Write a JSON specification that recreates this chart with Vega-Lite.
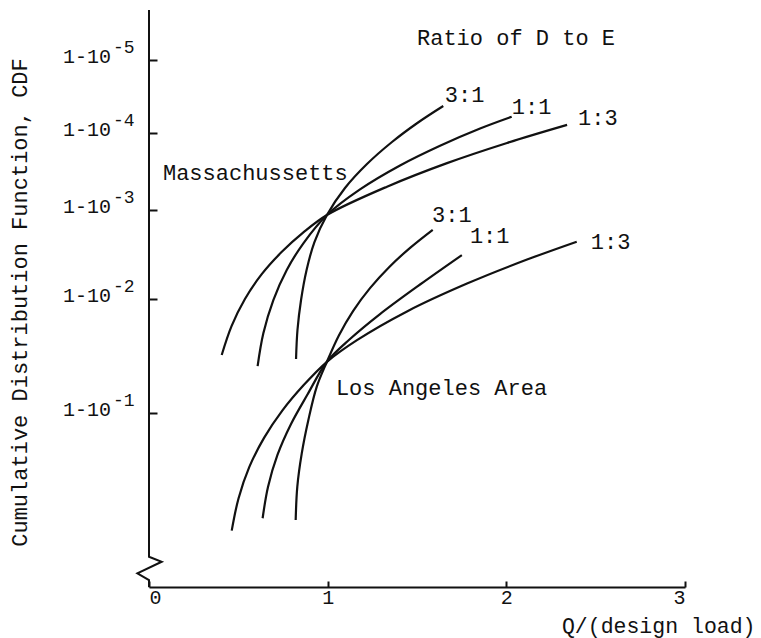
{
  "$schema": "https://vega.github.io/schema/vega-lite/v6.json",
  "width": 536,
  "height": 577,
  "autosize": {"type": "none"},
  "padding": {"left": 149, "top": 10, "right": 76, "bottom": 51},
  "background": "white",
  "config": {"view": {"stroke": null}, "font": "Liberation Mono"},
  "datasets": {
    "curves": [
      {"series": "Massachussetts 1:3", "x": 0.407, "k": 1.509},
      {"series": "Massachussetts 1:3", "x": 0.462, "k": 1.762},
      {"series": "Massachussetts 1:3", "x": 0.537, "k": 2.000},
      {"series": "Massachussetts 1:3", "x": 0.631, "k": 2.279},
      {"series": "Massachussetts 1:3", "x": 0.742, "k": 2.527},
      {"series": "Massachussetts 1:3", "x": 0.864, "k": 2.748},
      {"series": "Massachussetts 1:3", "x": 0.996, "k": 2.944},
      {"series": "Massachussetts 1:3", "x": 1.332, "k": 3.303},
      {"series": "Massachussetts 1:3", "x": 1.668, "k": 3.609},
      {"series": "Massachussetts 1:3", "x": 2.004, "k": 3.871},
      {"series": "Massachussetts 1:3", "x": 2.340, "k": 4.111},
      {"series": "Massachussetts 1:1", "x": 0.608, "k": 1.412},
      {"series": "Massachussetts 1:1", "x": 0.640, "k": 1.699},
      {"series": "Massachussetts 1:1", "x": 0.696, "k": 1.991},
      {"series": "Massachussetts 1:1", "x": 0.771, "k": 2.326},
      {"series": "Massachussetts 1:1", "x": 0.864, "k": 2.626},
      {"series": "Massachussetts 1:1", "x": 0.996, "k": 2.944},
      {"series": "Massachussetts 1:1", "x": 1.181, "k": 3.268},
      {"series": "Massachussetts 1:1", "x": 1.405, "k": 3.579},
      {"series": "Massachussetts 1:1", "x": 1.629, "k": 3.835},
      {"series": "Massachussetts 1:1", "x": 1.853, "k": 4.062},
      {"series": "Massachussetts 1:1", "x": 2.030, "k": 4.223},
      {"series": "Massachussetts 3:1", "x": 0.823, "k": 1.474},
      {"series": "Massachussetts 3:1", "x": 0.831, "k": 1.728},
      {"series": "Massachussetts 3:1", "x": 0.851, "k": 1.991},
      {"series": "Massachussetts 3:1", "x": 0.882, "k": 2.326},
      {"series": "Massachussetts 3:1", "x": 0.926, "k": 2.640},
      {"series": "Massachussetts 3:1", "x": 0.996, "k": 2.944},
      {"series": "Massachussetts 3:1", "x": 1.097, "k": 3.286},
      {"series": "Massachussetts 3:1", "x": 1.220, "k": 3.597},
      {"series": "Massachussetts 3:1", "x": 1.360, "k": 3.883},
      {"series": "Massachussetts 3:1", "x": 1.506, "k": 4.144},
      {"series": "Massachussetts 3:1", "x": 1.647, "k": 4.370},
      {"series": "Los Angeles 1:3", "x": 0.463, "k": 0.324},
      {"series": "Los Angeles 1:3", "x": 0.501, "k": 0.509},
      {"series": "Los Angeles 1:3", "x": 0.561, "k": 0.689},
      {"series": "Los Angeles 1:3", "x": 0.644, "k": 0.857},
      {"series": "Los Angeles 1:3", "x": 0.747, "k": 1.023},
      {"series": "Los Angeles 1:3", "x": 0.866, "k": 1.245},
      {"series": "Los Angeles 1:3", "x": 0.996, "k": 1.449},
      {"series": "Los Angeles 1:3", "x": 1.164, "k": 1.639},
      {"series": "Los Angeles 1:3", "x": 1.444, "k": 1.891},
      {"series": "Los Angeles 1:3", "x": 1.780, "k": 2.173},
      {"series": "Los Angeles 1:3", "x": 2.116, "k": 2.443},
      {"series": "Los Angeles 1:3", "x": 2.394, "k": 2.644},
      {"series": "Los Angeles 1:1", "x": 0.636, "k": 0.395},
      {"series": "Los Angeles 1:1", "x": 0.666, "k": 0.575},
      {"series": "Los Angeles 1:1", "x": 0.719, "k": 0.759},
      {"series": "Los Angeles 1:1", "x": 0.795, "k": 0.937},
      {"series": "Los Angeles 1:1", "x": 0.887, "k": 1.162},
      {"series": "Los Angeles 1:1", "x": 0.996, "k": 1.450},
      {"series": "Los Angeles 1:1", "x": 1.125, "k": 1.649},
      {"series": "Los Angeles 1:1", "x": 1.293, "k": 1.868},
      {"series": "Los Angeles 1:1", "x": 1.517, "k": 2.163},
      {"series": "Los Angeles 1:1", "x": 1.751, "k": 2.494},
      {"series": "Los Angeles 3:1", "x": 0.821, "k": 0.385},
      {"series": "Los Angeles 3:1", "x": 0.830, "k": 0.576},
      {"series": "Los Angeles 3:1", "x": 0.855, "k": 0.768},
      {"series": "Los Angeles 3:1", "x": 0.892, "k": 0.960},
      {"series": "Los Angeles 3:1", "x": 0.939, "k": 1.231},
      {"series": "Los Angeles 3:1", "x": 0.996, "k": 1.450},
      {"series": "Los Angeles 3:1", "x": 1.062, "k": 1.678},
      {"series": "Los Angeles 3:1", "x": 1.142, "k": 1.894},
      {"series": "Los Angeles 3:1", "x": 1.237, "k": 2.122},
      {"series": "Los Angeles 3:1", "x": 1.345, "k": 2.360},
      {"series": "Los Angeles 3:1", "x": 1.463, "k": 2.578},
      {"series": "Los Angeles 3:1", "x": 1.588, "k": 2.778}
    ],
    "axisline": [
      {"o": 1, "x": 0, "k": 5.7},
      {"o": 2, "x": 0, "k": 0.174},
      {"o": 3, "x": 0.071, "k": 0.145},
      {"o": 4, "x": -0.065, "k": 0.079},
      {"o": 5, "x": 0, "k": 0.040},
      {"o": 6, "x": 0, "k": 0}
    ],
    "ylabels": [
      {"k": 5, "base": "1-10", "exp": "-5"},
      {"k": 4, "base": "1-10", "exp": "-4"},
      {"k": 3, "base": "1-10", "exp": "-3"},
      {"k": 2, "base": "1-10", "exp": "-2"},
      {"k": 1, "base": "1-10", "exp": "-1"}
    ],
    "notes": [
      {"label": "Ratio of D to E", "x": 1.500, "k": 5.314},
      {"label": "Massachussetts", "x": 0.078, "k": 3.484},
      {"label": "Los Angeles Area", "x": 1.046, "k": 1.222},
      {"label": "3:1", "x": 1.656, "k": 4.521},
      {"label": "1:1", "x": 2.031, "k": 4.356},
      {"label": "1:3", "x": 2.401, "k": 4.205},
      {"label": "3:1", "x": 1.584, "k": 2.944},
      {"label": "1:1", "x": 1.796, "k": 2.708},
      {"label": "1:3", "x": 2.473, "k": 2.640}
    ]
  },
  "layer": [
    {
      "data": {"name": "curves"},
      "mark": {"type": "line", "interpolate": "catmull-rom", "color": "#111", "strokeWidth": 2.2},
      "encoding": {
        "x": {
          "field": "x", "type": "quantitative",
          "scale": {"domain": [0, 3], "nice": false, "zero": false},
          "axis": {
            "values": [0, 1, 2, 3], "format": "d", "grid": false,
            "domainColor": "#111", "domainWidth": 2,
            "tickColor": "#111", "tickWidth": 2, "tickSize": -6,
            "labelFont": "Liberation Mono", "labelFontSize": 20, "labelColor": "#111", "labelPadding": 6,
            "title": "Q/(design load)", "titleFont": "Liberation Mono", "titleFontSize": 21.5,
            "titleFontWeight": "normal", "titleColor": "#111",
            "titleX": 606, "titleY": 45, "titleAlign": "right", "titleBaseline": "alphabetic", "titleAnchor": null
          }
        },
        "y": {
          "field": "k", "type": "quantitative",
          "scale": {"domain": [0, 1, 2, 3, 4, 5, 5.7], "range": [577, 403, 289, 200, 123, 50, 0], "nice": false, "zero": false},
          "axis": {
            "values": [1, 2, 3, 4, 5], "grid": false, "domain": false, "labels": false,
            "tickColor": "#111", "tickWidth": 2, "tickSize": -8,
            "title": "Cumulative Distribution Function, CDF", "titleFont": "Liberation Mono", "titleFontSize": 22,
            "titleFontWeight": "normal", "titleColor": "#111",
            "titleX": -123, "titleY": 292, "titleAngle": -90, "titleAlign": "center", "titleBaseline": "alphabetic"
          }
        },
        "detail": {"field": "series"}
      }
    },
    {
      "data": {"name": "axisline"},
      "mark": {"type": "line", "color": "#111", "strokeWidth": 2},
      "encoding": {
        "x": {"field": "x", "type": "quantitative"},
        "y": {"field": "k", "type": "quantitative"},
        "order": {"field": "o"}
      }
    },
    {
      "data": {"name": "ylabels"},
      "mark": {"type": "text", "align": "right", "baseline": "alphabetic", "dx": -38, "dy": 3, "fontSize": 20, "font": "Liberation Mono", "color": "#111"},
      "encoding": {
        "x": {"datum": 0, "type": "quantitative"},
        "y": {"field": "k", "type": "quantitative"},
        "text": {"field": "base"}
      }
    },
    {
      "data": {"name": "ylabels"},
      "mark": {"type": "text", "align": "left", "baseline": "alphabetic", "dx": -36, "dy": -7, "fontSize": 18, "font": "Liberation Mono", "color": "#111"},
      "encoding": {
        "x": {"datum": 0, "type": "quantitative"},
        "y": {"field": "k", "type": "quantitative"},
        "text": {"field": "exp"}
      }
    },
    {
      "data": {"name": "notes"},
      "mark": {"type": "text", "align": "left", "baseline": "middle", "fontSize": 22, "font": "Liberation Mono", "color": "#111"},
      "encoding": {
        "x": {"field": "x", "type": "quantitative"},
        "y": {"field": "k", "type": "quantitative"},
        "text": {"field": "label"}
      }
    }
  ]
}
